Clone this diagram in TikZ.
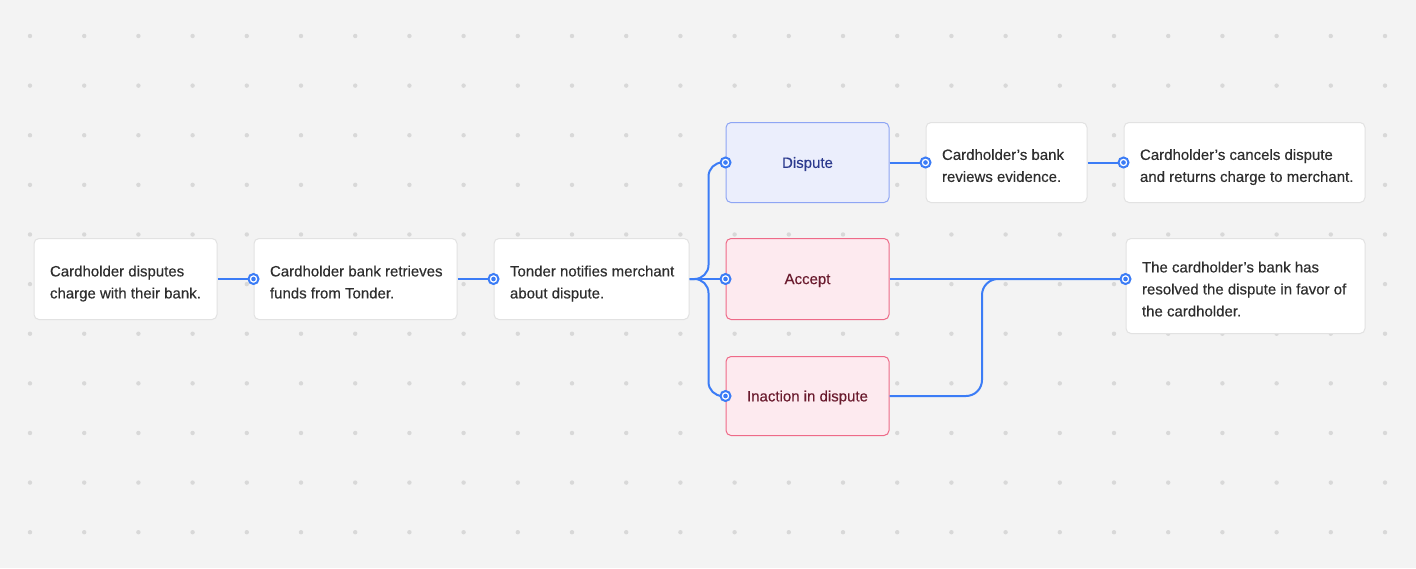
\documentclass[tikz,border=0pt]{standalone}
\usepackage{fontspec}
\setmainfont{Liberation Sans}[FakeBold=0.35]
\definecolor{bg}{HTML}{F3F3F3}
\definecolor{dotc}{HTML}{D8D8D8}
\definecolor{cardborder}{HTML}{E2E2E2}
\definecolor{txt}{HTML}{2E2E2E}
\definecolor{conn}{HTML}{3B7CF6}
\definecolor{bluefill}{HTML}{EBEEFC}
\definecolor{blueborder}{HTML}{8EA5F4}
\definecolor{bluetext}{HTML}{2C3A8E}
\definecolor{redfill}{HTML}{FDEAEF}
\definecolor{redborder}{HTML}{EE6A88}
\definecolor{redtext}{HTML}{6A1B2E}
\newcommand{\cardtext}[2]{\raisebox{-4pt}[\height][\depth]{\makebox[#1][l]{\begin{tabular}{@{}l@{}}#2\end{tabular}}}}
\newcommand{\choicetext}[1]{\raisebox{-1.5pt}[\height][\depth]{#1}}
\begin{document}
\begin{tikzpicture}[x=1pt,y=-1pt,
  card/.style={draw=cardborder, line width=1pt, fill=white, rounded corners=5pt,
    inner sep=0pt, text=txt,
    font=\fontsize{15}{22}\selectfont},
  choice/.style={rounded corners=5pt, line width=1pt, align=center,
    font=\fontsize{15}{22}\selectfont, inner sep=0pt},
  bluebox/.style={choice, draw=blueborder, fill=bluefill, text=bluetext},
  redbox/.style={choice, draw=redborder, fill=redfill, text=redtext},
  connector/.style={draw=conn, line width=2pt},
  port/.style={circle, draw=conn, line width=2pt, fill=white, minimum size=10pt, inner sep=0pt,
    path picture={\fill[conn] (path picture bounding box.center) circle (2.3pt);}}
]
\fill[bg] (0,0) rectangle (1416,568);
\useasboundingbox (0,0) rectangle (1416,568);
\foreach \i in {0,...,25}{
  \foreach \j in {0,...,10}{
    \fill[dotc] ({30+54.2*\i},{36+49.62*\j}) circle (2.2pt);
  }
}
% nodes
\node[card, minimum width=183pt, minimum height=81pt] (n1) at (125.5,279) {\cardtext{151pt}{Cardholder disputes\\charge with their bank.}};
\node[card, minimum width=203pt, minimum height=81pt] (n2) at (355.5,279) {\cardtext{171pt}{Cardholder bank retrieves\\funds from Tonder.}};
\node[card, minimum width=195pt, minimum height=81pt] (n3) at (591.5,279) {\cardtext{163pt}{Tonder notifies merchant\\about dispute.}};
\node[bluebox, minimum width=163pt, minimum height=80pt] (dispute) at (807.5,162.5) {\choicetext{Dispute}};
\node[redbox, minimum width=163pt, minimum height=81pt] (accept) at (807.5,279) {\choicetext{Accept}};
\node[redbox, minimum width=163pt, minimum height=79pt] (inaction) at (807.5,396) {\choicetext{Inaction in dispute}};
\node[card, minimum width=161pt, minimum height=80pt] (n7) at (1006.5,162.5) {\cardtext{129pt}{Cardholder’s bank\\reviews evidence.}};
\node[card, minimum width=241pt, minimum height=80pt] (n8) at (1244.5,162.5) {\cardtext{209pt}{Cardholder’s cancels dispute\\and returns charge to merchant.}};
\node[card, minimum width=239pt, minimum height=95pt] (n9) at (1245.5,286) {\cardtext{207pt}{The cardholder’s bank has\\resolved the dispute in favor of\\the cardholder.}};
\coordinate (p9) at (n9.west |- accept.east);
\coordinate (jA) at (982,0);
% connectors
\draw[connector] (n1.east) -- (n2.west);
\draw[connector] (n2.east) -- (n3.west);
\draw[connector, rounded corners=14pt] (n3.east) -- ++(19,0) |- (dispute.west);
\draw[connector] (n3.east) -- (accept.west);
\draw[connector, rounded corners=14pt] (n3.east) -- ++(19,0) |- (inaction.west);
\draw[connector] (dispute.east) -- (n7.west);
\draw[connector] (n7.east) -- (n8.west);
\draw[connector] (accept.east) -- (p9);
\draw[connector, rounded corners=16pt] (inaction.east) -| (jA |- p9) -- (p9);
% ports
\node[port] at (n2.west) {};
\node[port] at (n3.west) {};
\node[port] at (dispute.west) {};
\node[port] at (inaction.west) {};
\node[port] at (accept.west) {};
\node[port] at (n7.west) {};
\node[port] at (n8.west) {};
\node[port] at (p9) {};
\end{tikzpicture}
\end{document}
